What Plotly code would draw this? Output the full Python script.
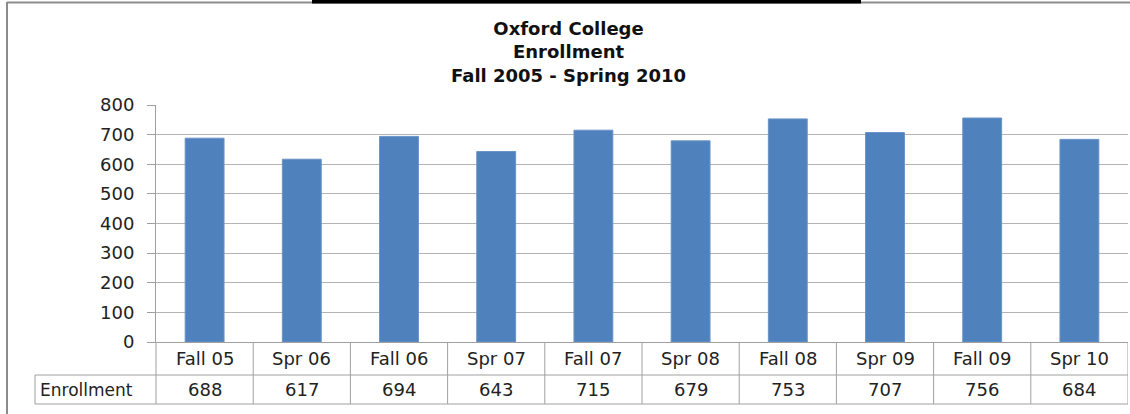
import plotly.graph_objects as go

# data
terms = ['Fall 05', 'Spr 06', 'Fall 06', 'Spr 07', 'Fall 07',
         'Spr 08', 'Fall 08', 'Spr 09', 'Fall 09', 'Spr 10']
enrollment = [688, 617, 694, 643, 715, 679, 753, 707, 756, 684]
series_name = 'Enrollment'
title_lines = ['Oxford College', 'Enrollment', 'Fall 2005 - Spring 2010']
y_ticks = [0, 100, 200, 300, 400, 500, 600, 700, 800]

W, H = 1130, 414
L, R, T, B = 156, 1128, 105, 342  # plot area in pixels


def px(x):
    return (x - L) / (R - L)


def py(y):
    return (B - y) / (B - T)


FONT = 'DejaVu Sans'
GRID = '#B4B4B4'
LINE = '#A0A0A0'

fig = go.Figure()
fig.add_trace(go.Bar(
    x=list(range(len(terms))), y=enrollment, name=series_name,
    marker=dict(color='#4F81BD', line=dict(color='#6A93C8', width=1)),
    width=0.4,
))

shapes = []
# table rows
row1_bot, row2_bot = 375, 404
for yy in (row1_bot, row2_bot):
    shapes.append(dict(type='line', xref='paper', yref='paper',
                       x0=px(35), x1=px(R), y0=py(yy), y1=py(yy),
                       line=dict(color=LINE, width=1)))
shapes.append(dict(type='line', xref='paper', yref='paper',
                   x0=px(35), x1=px(35), y0=py(row1_bot), y1=py(row2_bot),
                   line=dict(color=LINE, width=1)))
shapes.append(dict(type='line', xref='paper', yref='paper',
                   x0=0, x1=0, y0=0, y1=py(row2_bot),
                   line=dict(color=LINE, width=1)))
for i in range(len(terms)):
    shapes.append(dict(type='line', xref='x', yref='paper',
                       x0=i + 0.5, x1=i + 0.5, y0=0, y1=py(row2_bot),
                       line=dict(color=LINE, width=1)))

# outer chart border and top bar
shapes.append(dict(type='line', xref='paper', yref='paper',
                   x0=px(7), x1=px(7), y0=py(2), y1=py(H + 5),
                   line=dict(color='#8C8C8C', width=2)))
shapes.append(dict(type='line', xref='paper', yref='paper',
                   x0=px(7), x1=px(W + 5), y0=py(2.5), y1=py(2.5),
                   line=dict(color='#8C8C8C', width=2)))
shapes.append(dict(type='rect', xref='paper', yref='paper',
                   x0=px(312), x1=px(861), y0=py(0), y1=py(3.5),
                   fillcolor='black', line=dict(width=0)))

annotations = []
for i, (t, v) in enumerate(zip(terms, enrollment)):
    annotations.append(dict(x=i, y=py((B + row1_bot) / 2), xref='x', yref='paper',
                            text=t, showarrow=False, yanchor='middle',
                            font=dict(family=FONT, size=18, color='#222')))
    annotations.append(dict(x=i, y=py((row1_bot + row2_bot) / 2), xref='x', yref='paper',
                            text=str(v), showarrow=False, yanchor='middle',
                            font=dict(family=FONT, size=18, color='#222')))
annotations.append(dict(x=px(38), y=py((row1_bot + row2_bot) / 2), xref='paper', yref='paper',
                        text=series_name, showarrow=False, xanchor='left', yanchor='middle',
                        font=dict(family=FONT, size=17, color='#222')))
annotations.append(dict(x=px(568), y=py(52), xref='paper', yref='paper',
                        text='<br>'.join('<b>%s</b>' % s for s in title_lines),
                        showarrow=False, align='center', xanchor='center', yanchor='middle',
                        font=dict(family=FONT, size=18, color='#111')))

fig.update_layout(
    width=W, height=H,
    margin=dict(l=L, r=W - R, t=T, b=H - B, pad=0),
    paper_bgcolor='white', plot_bgcolor='white',
    showlegend=False,
    xaxis=dict(range=[-0.5, len(terms) - 0.5], showticklabels=False,
               showgrid=False, zeroline=False, showline=True,
               linecolor=LINE, linewidth=1, ticks=''),
    yaxis=dict(range=[0, 800], tickvals=y_ticks, showgrid=True,
               gridcolor=GRID, gridwidth=1, zeroline=False,
               showline=True, linecolor=LINE, linewidth=1,
               ticks='outside', ticklen=8, tickcolor=LINE,
               ticklabelstandoff=9,
               tickfont=dict(family=FONT, size=18, color='#222')),
    shapes=shapes, annotations=annotations,
)

# page body has a default margin; remove it so the figure sits at 0,0
fig.write_html('out.html', config={'displayModeBar': False},
               post_script="document.body.style.margin='0';")
